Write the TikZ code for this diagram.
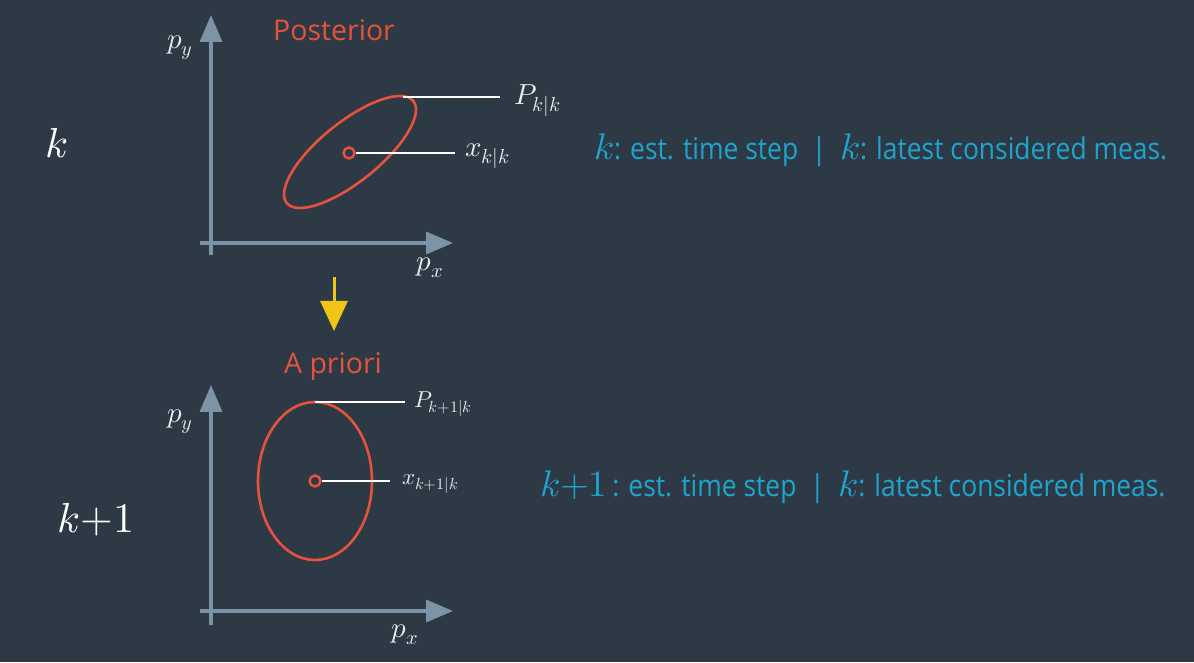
\documentclass[tikz,border=0pt]{standalone}
\usepackage{fontspec}
\usepackage{unicode-math}
\setmathfont{Latin Modern Math}
\setsansfont{Open Sans}
\newfontfamily\cond[FakeStretch=0.88]{Open Sans}
\usetikzlibrary{arrows.meta}
\definecolor{bg}{HTML}{2D3945}
\definecolor{axis}{HTML}{7D93A6}
\definecolor{ered}{HTML}{E6523D}
\definecolor{ecyan}{HTML}{1FA4CE}
\definecolor{eyel}{HTML}{F0C419}
\definecolor{lbl}{HTML}{E9EDF0}
\tikzset{
  axisline/.style={draw=axis, line width=3.5pt, -{Triangle[length=27pt,width=22pt]}},
  ell/.style={draw=ered, line width=2.6pt},
  lead/.style={draw=white, line width=2.6pt},
  lbltxt/.style={text=lbl, inner sep=0pt, font=\fontsize{29}{33}\selectfont},
  title/.style={text=ered, inner sep=0pt, font=\sffamily\fontsize{28.5}{32}\selectfont},
  big/.style={text=white, inner sep=0pt, font=\fontsize{42}{48}\selectfont},
  info/.style={text=ecyan, inner sep=0pt, anchor=west, font=\cond\fontsize{30}{34}\selectfont},
}
\newcommand{\kk}[1]{{\fontsize{37}{40}\selectfont$#1$}}
\begin{document}
\begin{tikzpicture}[x=1pt,y=1pt]
\fill[bg] (0,0) rectangle (1194,662);
\useasboundingbox (0,0) rectangle (1194,662);
% ---------- top plot ----------
\coordinate (yb1) at (211,407);
\coordinate (yt1) at (211,647);
\coordinate (xl1) at (200,419);
\coordinate (xr1) at (453,419);
\draw[axisline] (yb1) -- (yt1);
\draw[axisline] (xl1) -- (xr1);
\node[lbltxt] (py1) at (180,614) {$p_y$};
\node[lbltxt] (px1) at (430,394) {$p_x$};
\node[title] (post) at (334,632) {Posterior};
\node[big] (k1) at (57,519) {$k$};
\draw[ell, rotate around={38.85:(350,510)}] (350,510) ellipse [x radius=81.3, y radius=29.7];
\node[draw=ered, line width=2.4pt, circle, minimum size=11pt, inner sep=0pt] (c1) at (349,509) {};
\coordinate (etop1) at (403,565);
\coordinate (pend1) at (500,565);
\coordinate (xend1) at (455,509);
\draw[lead] (etop1) -- (pend1);
\draw[lead] (c1.east) -- (xend1);
\node[lbltxt, anchor=west] (P1) at (514,561) {$P_{k|k}$};
\node[lbltxt, anchor=west] (x1) at (465,506) {$x_{k|k}$};
\node[info] (info1) at (594,512) {\kk{k}: est. time step\ \ |\ \ \kk{k}: latest considered meas.};
% ---------- yellow arrow ----------
\coordinate (ya) at (334,385);
\coordinate (yb) at (334,331);
\draw[draw=eyel, line width=3pt, -{Triangle[length=30pt,width=27pt]}] (ya) -- (yb);
% ---------- bottom plot ----------
\coordinate (yb2) at (211,37);
\coordinate (yt2) at (211,277);
\coordinate (xl2) at (200,51);
\coordinate (xr2) at (453,51);
\draw[axisline] (yb2) -- (yt2);
\draw[axisline] (xl2) -- (xr2);
\node[lbltxt] (py2) at (180,240) {$p_y$};
\node[lbltxt] (px2) at (405,27) {$p_x$};
\node[title] (apri) at (333,296) {A priori};
\node[big] (k2) at (96,142) {$k{+}1$};
\draw[ell] (315,181) ellipse [x radius=57, y radius=79];
\node[draw=ered, line width=2.4pt, circle, minimum size=11pt, inner sep=0pt] (c2) at (315,181) {};
\coordinate (etop2) at (315,260);
\coordinate (pend2) at (405,260);
\coordinate (xend2) at (390,181);
\draw[lead] (etop2) -- (pend2);
\draw[lead] (c2.east) -- (xend2);
\node[lbltxt, anchor=west, font=\fontsize{23}{27}\selectfont] (P2) at (414,258) {$P_{k+1|k}$};
\node[lbltxt, anchor=west, font=\fontsize{23}{27}\selectfont] (x2) at (402,178) {$x_{k+1|k}$};
\node[info] (info2) at (540,175) {\kk{k{+}1}\,: est. time step\ \ |\ \ \kk{k}: latest considered meas.};
\end{tikzpicture}
\end{document}
